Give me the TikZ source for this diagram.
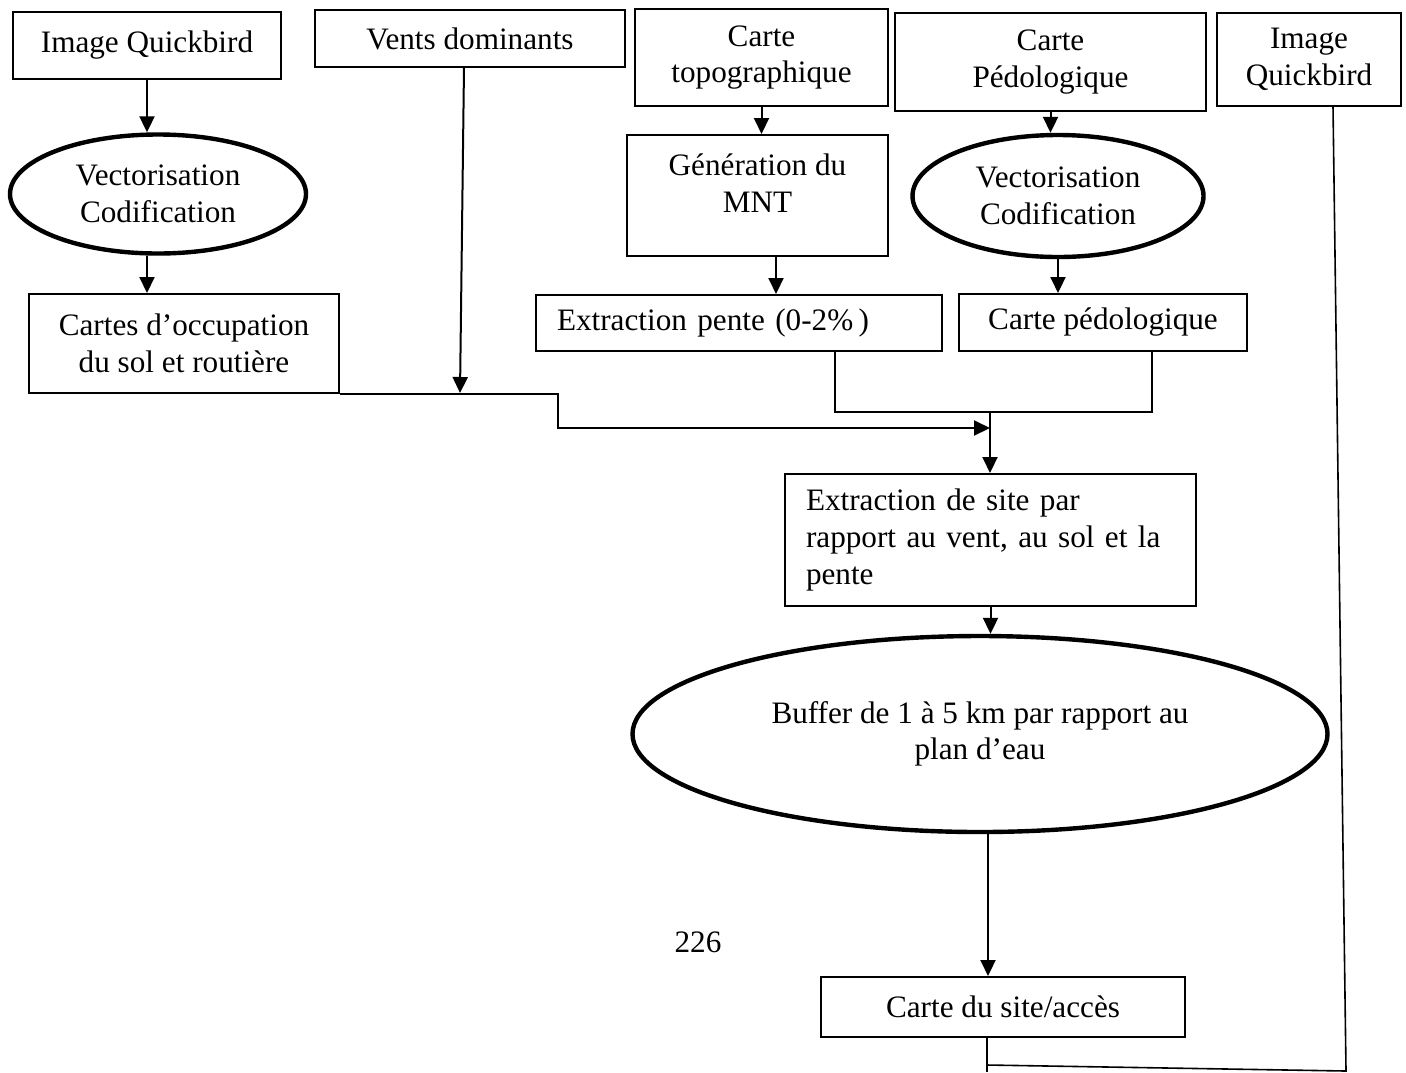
\documentclass[tikz,border=0pt]{standalone}
\usepackage{fontspec}
\setmainfont{Liberation Serif}
\usetikzlibrary{arrows.meta,shapes.geometric}
\tikzset{every node/.style={font=\fontsize{15.6}{18.3}\selectfont}}
\tikzset{box/.style={rectangle,draw,line width=1pt,align=center,inner sep=2pt}}
\tikzset{oval/.style={ellipse,draw,line width=2.2pt,align=center,inner sep=0pt}}
\tikzset{flow/.style={line width=1pt,-{Triangle[length=8pt,width=7.5pt]}}}
\tikzset{link/.style={line width=0.8pt}}

\begin{document}
\begin{tikzpicture}[x=0.5pt,y=-0.5pt]
\useasboundingbox (0,0) rectangle (1406,1072);
\node [box,minimum width=134pt,minimum height=33.5pt] (img1) at (147,45.5) {Image Quickbird};
\node [box,minimum width=155pt,minimum height=28.5pt] (vents) at (470,38.5) {Vents dominants};
\node [box,minimum width=126.5pt,minimum height=48.5pt] (topo) at (761.5,57.5) {Carte\\topographique};
\node [box,minimum width=155.5pt,minimum height=49pt] (pedo) at (1050.5,62) {Carte\\Pédologique};
\node [box,minimum width=92pt,minimum height=46.5pt] (img2) at (1309,59.5) {Image\\Quickbird};

\node [oval,minimum width=148pt,minimum height=59.5pt] (ell1) at (158,194) {Vectorisation\\Codification};
\node [box,minimum width=130.5pt,minimum height=60.5pt] (mnt) at (757.5,195.5) {};
\node [align=center] (mnttxt) at (757.5,183) {Génération du\\MNT};
\node [oval,minimum width=145.5pt,minimum height=61pt] (ell2) at (1058,196) {Vectorisation\\Codification};

\node [box,minimum width=155pt,minimum height=49.5pt] (occ) at (184,343.5) {Cartes d’occupation\\du sol et routière};
\node [box,minimum height=28pt,text width=182pt,align=left,inner xsep=10.5pt] (pente) at (739,323) {Extraction pente (0-2\%\,)};
\node [box,minimum width=144pt,minimum height=28.5pt] (cped) at (1103,322.5) {Carte pédologique};

\node [box,minimum height=66pt,text width=184.5pt,align=left,inner xsep=10.5pt] (site) at (990.5,540) {Extraction de site par\\rapport au vent, au sol et la\\pente};
\node [oval,minimum width=347.5pt,minimum height=98pt] (buf) at (980,734) {Buffer de 1 à 5 km par rapport au\\plan d’eau};
\node (pagenum) at (698,942) {226};
\node [box,minimum width=182pt,minimum height=30pt] (acces) at (1003,1007) {Carte du site/accès};

\coordinate (vt) at (464,67);
\coordinate (vj) at (460,393);
\coordinate (step) at (558,428);
\coordinate (sj) at (990,428);
\coordinate (tj) at (990,412);
\coordinate (bt) at ([xshift=-7.5pt]acces.north);
\coordinate (edge) at (987,1072);
\coordinate (rb) at (1346,1071);
\coordinate (lb) at (987,1065);

\draw [flow] (img1.south) -- (img1.south |- ell1.north);
\draw [flow] (img1.south |- ell1.south) -- (img1.south |- occ.north);
\draw [flow] (vt) -- (vj);
\draw [flow] (occ.south east) -- (step |- occ.south) -- (step) -- (sj);

\draw [flow] (topo.south) -- (topo.south |- mnt.north);
\draw [flow] ([xshift=9.25pt]mnt.south) -- ([xshift=9.25pt]mnt.south |- pente.north);
\draw [flow] (pedo.south) -- (pedo.south |- ell2.north);
\draw [flow] (ell2.south) -- (ell2.south |- cped.north);

\draw [link] ([xshift=48pt]pente.south) |- (tj) -| ([xshift=24.5pt]cped.south);
\draw [flow] (tj) -- (tj |- site.north);
\draw [flow] (site.south) -- (site.south |- buf.north);
\draw [flow] (bt |- buf.south) -- (bt);

\draw [link] ([xshift=-8pt]acces.south) -- (edge);
\draw [link] ([xshift=12pt]img2.south) -- (rb) -- (lb);
\end{tikzpicture}
\end{document}
